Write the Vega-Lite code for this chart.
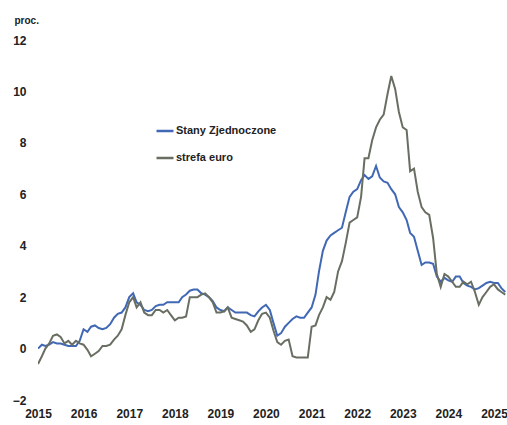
{
  "$schema": "https://vega.github.io/schema/vega-lite/v6.json",
  "autosize": "none",
  "width": 469,
  "height": 360,
  "padding": {"left": 38, "top": 40, "right": 0, "bottom": 25},
  "background": "white",
  "config": {
    "view": {"stroke": null},
    "font": "Liberation Sans"
  },
  "data": {"values": [
    {"d":"2015-01-01","Stany Zjednoczone":0.0,"strefa euro":-0.6},
    {"d":"2015-02-01","Stany Zjednoczone":0.15,"strefa euro":-0.3},
    {"d":"2015-03-01","Stany Zjednoczone":0.1,"strefa euro":0.0},
    {"d":"2015-04-01","Stany Zjednoczone":0.15,"strefa euro":0.2},
    {"d":"2015-05-01","Stany Zjednoczone":0.25,"strefa euro":0.5},
    {"d":"2015-06-01","Stany Zjednoczone":0.2,"strefa euro":0.55},
    {"d":"2015-07-01","Stany Zjednoczone":0.2,"strefa euro":0.45},
    {"d":"2015-08-01","Stany Zjednoczone":0.15,"strefa euro":0.2},
    {"d":"2015-09-01","Stany Zjednoczone":0.1,"strefa euro":0.3},
    {"d":"2015-10-01","Stany Zjednoczone":0.1,"strefa euro":0.15},
    {"d":"2015-11-01","Stany Zjednoczone":0.1,"strefa euro":0.3},
    {"d":"2015-12-01","Stany Zjednoczone":0.3,"strefa euro":0.2},
    {"d":"2016-01-01","Stany Zjednoczone":0.75,"strefa euro":0.15},
    {"d":"2016-02-01","Stany Zjednoczone":0.65,"strefa euro":-0.05},
    {"d":"2016-03-01","Stany Zjednoczone":0.85,"strefa euro":-0.3},
    {"d":"2016-04-01","Stany Zjednoczone":0.9,"strefa euro":-0.2},
    {"d":"2016-05-01","Stany Zjednoczone":0.8,"strefa euro":-0.1},
    {"d":"2016-06-01","Stany Zjednoczone":0.75,"strefa euro":0.1},
    {"d":"2016-07-01","Stany Zjednoczone":0.8,"strefa euro":0.1},
    {"d":"2016-08-01","Stany Zjednoczone":0.95,"strefa euro":0.15},
    {"d":"2016-09-01","Stany Zjednoczone":1.2,"strefa euro":0.35},
    {"d":"2016-10-01","Stany Zjednoczone":1.35,"strefa euro":0.5},
    {"d":"2016-11-01","Stany Zjednoczone":1.4,"strefa euro":0.75},
    {"d":"2016-12-01","Stany Zjednoczone":1.6,"strefa euro":1.3},
    {"d":"2017-01-01","Stany Zjednoczone":2.0,"strefa euro":1.8},
    {"d":"2017-02-01","Stany Zjednoczone":2.15,"strefa euro":2.0},
    {"d":"2017-03-01","Stany Zjednoczone":1.8,"strefa euro":1.6},
    {"d":"2017-04-01","Stany Zjednoczone":1.7,"strefa euro":1.8},
    {"d":"2017-05-01","Stany Zjednoczone":1.5,"strefa euro":1.4},
    {"d":"2017-06-01","Stany Zjednoczone":1.45,"strefa euro":1.3},
    {"d":"2017-07-01","Stany Zjednoczone":1.5,"strefa euro":1.3},
    {"d":"2017-08-01","Stany Zjednoczone":1.65,"strefa euro":1.5},
    {"d":"2017-09-01","Stany Zjednoczone":1.7,"strefa euro":1.5},
    {"d":"2017-10-01","Stany Zjednoczone":1.7,"strefa euro":1.4},
    {"d":"2017-11-01","Stany Zjednoczone":1.8,"strefa euro":1.5},
    {"d":"2017-12-01","Stany Zjednoczone":1.8,"strefa euro":1.3},
    {"d":"2018-01-01","Stany Zjednoczone":1.8,"strefa euro":1.1},
    {"d":"2018-02-01","Stany Zjednoczone":1.8,"strefa euro":1.2},
    {"d":"2018-03-01","Stany Zjednoczone":2.0,"strefa euro":1.2},
    {"d":"2018-04-01","Stany Zjednoczone":2.1,"strefa euro":1.25},
    {"d":"2018-05-01","Stany Zjednoczone":2.25,"strefa euro":2.0},
    {"d":"2018-06-01","Stany Zjednoczone":2.3,"strefa euro":2.0},
    {"d":"2018-07-01","Stany Zjednoczone":2.3,"strefa euro":2.0},
    {"d":"2018-08-01","Stany Zjednoczone":2.15,"strefa euro":2.1},
    {"d":"2018-09-01","Stany Zjednoczone":2.1,"strefa euro":2.15},
    {"d":"2018-10-01","Stany Zjednoczone":2.0,"strefa euro":2.0},
    {"d":"2018-11-01","Stany Zjednoczone":1.85,"strefa euro":1.8},
    {"d":"2018-12-01","Stany Zjednoczone":1.6,"strefa euro":1.4},
    {"d":"2019-01-01","Stany Zjednoczone":1.5,"strefa euro":1.4},
    {"d":"2019-02-01","Stany Zjednoczone":1.45,"strefa euro":1.45},
    {"d":"2019-03-01","Stany Zjednoczone":1.6,"strefa euro":1.6},
    {"d":"2019-04-01","Stany Zjednoczone":1.5,"strefa euro":1.2},
    {"d":"2019-05-01","Stany Zjednoczone":1.4,"strefa euro":1.15},
    {"d":"2019-06-01","Stany Zjednoczone":1.4,"strefa euro":1.1},
    {"d":"2019-07-01","Stany Zjednoczone":1.4,"strefa euro":1.05},
    {"d":"2019-08-01","Stany Zjednoczone":1.4,"strefa euro":0.9},
    {"d":"2019-09-01","Stany Zjednoczone":1.3,"strefa euro":0.65},
    {"d":"2019-10-01","Stany Zjednoczone":1.25,"strefa euro":0.75},
    {"d":"2019-11-01","Stany Zjednoczone":1.45,"strefa euro":1.1},
    {"d":"2019-12-01","Stany Zjednoczone":1.6,"strefa euro":1.35},
    {"d":"2020-01-01","Stany Zjednoczone":1.7,"strefa euro":1.4},
    {"d":"2020-02-01","Stany Zjednoczone":1.5,"strefa euro":1.2},
    {"d":"2020-03-01","Stany Zjednoczone":1.0,"strefa euro":0.7},
    {"d":"2020-04-01","Stany Zjednoczone":0.5,"strefa euro":0.25},
    {"d":"2020-05-01","Stany Zjednoczone":0.6,"strefa euro":0.15},
    {"d":"2020-06-01","Stany Zjednoczone":0.85,"strefa euro":0.3},
    {"d":"2020-07-01","Stany Zjednoczone":1.0,"strefa euro":0.35},
    {"d":"2020-08-01","Stany Zjednoczone":1.15,"strefa euro":-0.3},
    {"d":"2020-09-01","Stany Zjednoczone":1.25,"strefa euro":-0.35},
    {"d":"2020-10-01","Stany Zjednoczone":1.2,"strefa euro":-0.35},
    {"d":"2020-11-01","Stany Zjednoczone":1.2,"strefa euro":-0.35},
    {"d":"2020-12-01","Stany Zjednoczone":1.4,"strefa euro":-0.35},
    {"d":"2021-01-01","Stany Zjednoczone":1.6,"strefa euro":0.85},
    {"d":"2021-02-01","Stany Zjednoczone":2.1,"strefa euro":0.9},
    {"d":"2021-03-01","Stany Zjednoczone":3.0,"strefa euro":1.3},
    {"d":"2021-04-01","Stany Zjednoczone":3.8,"strefa euro":1.6},
    {"d":"2021-05-01","Stany Zjednoczone":4.2,"strefa euro":2.0},
    {"d":"2021-06-01","Stany Zjednoczone":4.4,"strefa euro":1.9},
    {"d":"2021-07-01","Stany Zjednoczone":4.5,"strefa euro":2.2},
    {"d":"2021-08-01","Stany Zjednoczone":4.6,"strefa euro":3.0},
    {"d":"2021-09-01","Stany Zjednoczone":4.7,"strefa euro":3.4},
    {"d":"2021-10-01","Stany Zjednoczone":5.3,"strefa euro":4.1},
    {"d":"2021-11-01","Stany Zjednoczone":5.9,"strefa euro":4.9},
    {"d":"2021-12-01","Stany Zjednoczone":6.1,"strefa euro":5.0},
    {"d":"2022-01-01","Stany Zjednoczone":6.2,"strefa euro":5.1},
    {"d":"2022-02-01","Stany Zjednoczone":6.55,"strefa euro":5.9},
    {"d":"2022-03-01","Stany Zjednoczone":6.75,"strefa euro":7.4},
    {"d":"2022-04-01","Stany Zjednoczone":6.6,"strefa euro":7.4},
    {"d":"2022-05-01","Stany Zjednoczone":6.7,"strefa euro":8.1},
    {"d":"2022-06-01","Stany Zjednoczone":7.1,"strefa euro":8.6},
    {"d":"2022-07-01","Stany Zjednoczone":6.65,"strefa euro":8.9},
    {"d":"2022-08-01","Stany Zjednoczone":6.5,"strefa euro":9.1},
    {"d":"2022-09-01","Stany Zjednoczone":6.45,"strefa euro":9.9},
    {"d":"2022-10-01","Stany Zjednoczone":6.2,"strefa euro":10.6},
    {"d":"2022-11-01","Stany Zjednoczone":6.0,"strefa euro":10.1},
    {"d":"2022-12-01","Stany Zjednoczone":5.5,"strefa euro":9.2},
    {"d":"2023-01-01","Stany Zjednoczone":5.3,"strefa euro":8.6},
    {"d":"2023-02-01","Stany Zjednoczone":5.0,"strefa euro":8.5},
    {"d":"2023-03-01","Stany Zjednoczone":4.5,"strefa euro":6.9},
    {"d":"2023-04-01","Stany Zjednoczone":4.35,"strefa euro":7.0},
    {"d":"2023-05-01","Stany Zjednoczone":3.8,"strefa euro":6.1},
    {"d":"2023-06-01","Stany Zjednoczone":3.25,"strefa euro":5.5},
    {"d":"2023-07-01","Stany Zjednoczone":3.35,"strefa euro":5.3},
    {"d":"2023-08-01","Stany Zjednoczone":3.35,"strefa euro":5.2},
    {"d":"2023-09-01","Stany Zjednoczone":3.3,"strefa euro":4.3},
    {"d":"2023-10-01","Stany Zjednoczone":2.8,"strefa euro":2.9},
    {"d":"2023-11-01","Stany Zjednoczone":2.6,"strefa euro":2.4},
    {"d":"2023-12-01","Stany Zjednoczone":2.75,"strefa euro":2.9},
    {"d":"2024-01-01","Stany Zjednoczone":2.65,"strefa euro":2.8},
    {"d":"2024-02-01","Stany Zjednoczone":2.6,"strefa euro":2.6},
    {"d":"2024-03-01","Stany Zjednoczone":2.8,"strefa euro":2.4},
    {"d":"2024-04-01","Stany Zjednoczone":2.8,"strefa euro":2.4},
    {"d":"2024-05-01","Stany Zjednoczone":2.55,"strefa euro":2.6},
    {"d":"2024-06-01","Stany Zjednoczone":2.45,"strefa euro":2.5},
    {"d":"2024-07-01","Stany Zjednoczone":2.4,"strefa euro":2.6},
    {"d":"2024-08-01","Stany Zjednoczone":2.3,"strefa euro":2.2},
    {"d":"2024-09-01","Stany Zjednoczone":2.35,"strefa euro":1.7},
    {"d":"2024-10-01","Stany Zjednoczone":2.45,"strefa euro":2.0},
    {"d":"2024-11-01","Stany Zjednoczone":2.55,"strefa euro":2.2},
    {"d":"2024-12-01","Stany Zjednoczone":2.6,"strefa euro":2.4},
    {"d":"2025-01-01","Stany Zjednoczone":2.55,"strefa euro":2.5},
    {"d":"2025-02-01","Stany Zjednoczone":2.55,"strefa euro":2.3},
    {"d":"2025-03-01","Stany Zjednoczone":2.35,"strefa euro":2.2},
    {"d":"2025-04-01","Stany Zjednoczone":2.2,"strefa euro":2.1}
  ]},
  "transform": [
    {"fold": ["Stany Zjednoczone", "strefa euro"], "as": ["seria", "wartosc"]}
  ],
  "mark": {"type": "line", "strokeWidth": 2, "clip": true},
  "encoding": {
    "x": {
      "field": "d", "type": "temporal",
      "scale": {"type": "utc", "domain": [{"year": 2015, "month": 1, "date": 1, "utc": true}, {"year": 2025, "month": 4, "date": 15, "utc": true}]},
      "axis": {
        "title": null, "format": "%Y", "tickCount": {"interval": "year", "step": 1},
        "domain": false, "ticks": false, "grid": false,
        "labelFontSize": 12, "labelFontWeight": "bold", "labelColor": "#222222",
        "labelPadding": 8, "labelOverlap": false, "labelFlush": false
      }
    },
    "y": {
      "field": "wartosc", "type": "quantitative",
      "scale": {"domain": [-2, 12], "nice": false, "zero": false},
      "axis": {
        "values": [-2, 0, 2, 4, 6, 8, 10, 12],
        "domain": false, "ticks": false, "grid": false,
        "labelFontSize": 12, "labelFontWeight": "bold", "labelColor": "#222222",
        "labelPadding": 12,
        "title": "proc.", "titleAngle": 0, "titleAlign": "left", "titleBaseline": "middle",
        "titleX": -24, "titleY": -20, "titleFontSize": 10, "titleFontWeight": "bold", "titleColor": "#222222"
      }
    },
    "color": {
      "field": "seria", "type": "nominal",
      "scale": {"domain": ["Stany Zjednoczone", "strefa euro"], "range": ["#4168b4", "#686f62"]},
      "legend": {
        "title": null, "orient": "none", "legendX": 117, "legendY": 81,
        "symbolType": "stroke", "symbolSize": 289, "symbolStrokeWidth": 2.5,
        "labelFontSize": 11, "labelFontWeight": "bold", "labelColor": "#222222",
        "labelOffset": 1, "rowPadding": 12, "padding": 0
      }
    }
  }
}
